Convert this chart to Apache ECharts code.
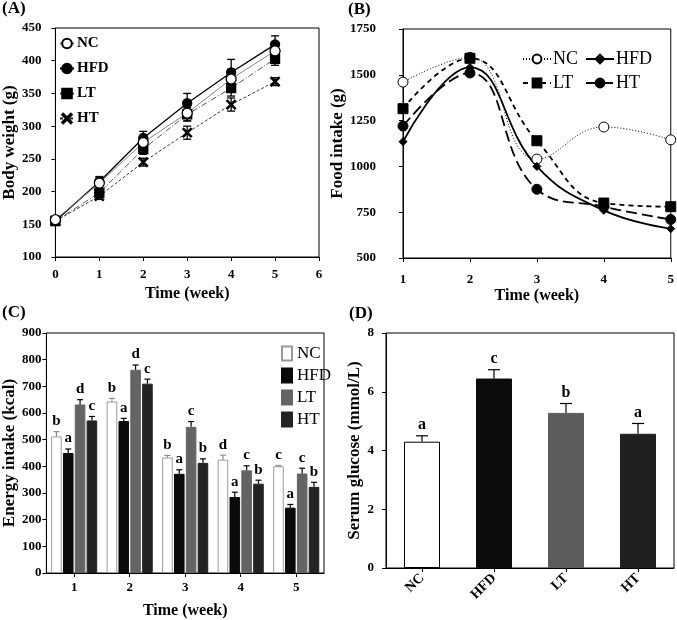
<!DOCTYPE html>
<html>
<head>
<meta charset="utf-8">
<script src="https://cdn.jsdelivr.net/npm/echarts@6/dist/echarts.min.js"></script>
<style>
html, body { margin: 0; padding: 0; background: #fff; }
#chart { width: 677px; height: 620px; }
</style>
</head>
<body>
<div id="chart"></div>
<script>
// ---- data ----
const groups = ['NC', 'HFD', 'LT', 'HT']

// (A) body weight, g
const weeksA = [0, 1, 2, 3, 4, 5]
const bwNC = [157, 213, 275, 320, 372, 415]
const bwHFD = [155, 215, 282, 335, 382, 425]
const bwLT = [155, 198, 265, 318, 358, 403]
const bwHT = [155, 193, 245, 290, 333, 368]
const bwErrNC = [4, 8, 10, 12, 15, 12]
const bwErrHFD = [4, 8, 10, 15, 20, 13]
const bwErrLT = [4, 6, 8, 10, 12, 10]
const bwErrHT = [4, 5, 6, 10, 10, 6]

// (B) food intake, g
const weeksB = [1, 2, 3, 4, 5]
const fiNC = [1460, 1595, 1040, 1215, 1145]
const fiHFD = [1135, 1540, 1000, 760, 660]
const fiLT = [1315, 1590, 1140, 800, 780]
const fiHT = [1220, 1510, 875, 780, 710]

// (C) energy intake, kcal
const weeksC = ['1', '2', '3', '4', '5']
const eiNC = [512, 643, 433, 425, 400]
const eiHFD = [450, 570, 372, 285, 245]
const eiLT = [632, 762, 548, 385, 373]
const eiHT = [572, 710, 413, 335, 323]
const eiErrNC = [18, 12, 8, 17, 3]
const eiErrHFD = [15, 10, 15, 18, 12]
const eiErrLT = [18, 18, 20, 17, 20]
const eiErrHT = [15, 17, 15, 13, 17]
const eiLetNC = ['b', 'b', 'b', 'd', 'c']
const eiLetHFD = ['a', 'a', 'a', 'a', 'a']
const eiLetLT = ['d', 'd', 'c', 'c', 'c']
const eiLetHT = ['c', 'c', 'b', 'b', 'b']

// (D) serum glucose, mmol/L
const sgValues = [4.3, 6.45, 5.28, 4.57]
const sgErr = [0.2, 0.3, 0.32, 0.35]
const sgLetters = ['a', 'c', 'b', 'a']

// ---- styles ----
const serif = '"Liberation Serif", "Times New Roman", serif'
const tickFont = { fontFamily: serif, fontWeight: 'bold', fontSize: 13, color: '#000', formatter: v => String(v) }
const nameFont = { fontFamily: serif, fontWeight: 'bold', fontSize: 17, color: '#000' }
const barColorsC = ['#ffffff', '#0a0a0a', '#646464', '#232323']
const barBordersC = ['#9a9a9a', '#0a0a0a', '#646464', '#232323']
const barColorsD = ['#ffffff', '#0b0b0b', '#5c5c5c', '#1f1f1f']
const xMark = 'path://M0,1L1,0L5,4L9,0L10,1L6,5L10,9L9,10L5,6L1,10L0,9L4,5Z'

const strip = name => name.split(':')[1]

function axisX (grid, extra) {
  return Object.assign({
    gridIndex: grid,
    axisLine: { lineStyle: { color: '#000', width: 1 } },
    axisTick: { show: true, length: 4, lineStyle: { color: '#000' } },
    axisLabel: Object.assign({}, tickFont),
    splitLine: { show: false },
    nameLocation: 'middle',
    nameTextStyle: Object.assign({}, nameFont, { fontSize: 16 })
  }, extra)
}

function axisY (grid, extra) {
  return Object.assign({
    gridIndex: grid,
    type: 'value',
    axisLine: { show: true, lineStyle: { color: '#000', width: 1 } },
    axisTick: { show: true, length: 4, lineStyle: { color: '#000' } },
    axisLabel: Object.assign({}, tickFont),
    splitLine: { show: false },
    nameLocation: 'middle',
    nameRotate: 90,
    nameTextStyle: Object.assign({}, nameFont)
  }, extra)
}

/**
 * error bars for the line chart: both directions, capped
 */
function errBoth (axis, xs, ys, errs) {
  return {
    type: 'custom',
    xAxisIndex: axis,
    yAxisIndex: axis,
    z: 1,
    silent: true,
    data: xs.map((x, i) => [x, ys[i], errs[i]]),
    renderItem: (params, api) => {
      const x = api.value(0)
      const y = api.value(1)
      const e = api.value(2)
      const top = api.coord([x, y + e])
      const bot = api.coord([x, y - e])
      const s = { stroke: '#000', lineWidth: 1.3 }
      const cap = 4
      return {
        type: 'group',
        children: [
          { type: 'line', shape: { x1: top[0], y1: top[1], x2: bot[0], y2: bot[1] }, style: s },
          { type: 'line', shape: { x1: top[0] - cap, y1: top[1], x2: top[0] + cap, y2: top[1] }, style: s },
          { type: 'line', shape: { x1: bot[0] - cap, y1: bot[1], x2: bot[0] + cap, y2: bot[1] }, style: s }
        ]
      }
    }
  }
}

/**
 * upward error bar + letter above a bar
 * slot/count/catGap/barGap follow the bar layout of the panel
 */
function errUp (axis, vals, errs, letters, opt) {
  return {
    type: 'custom',
    xAxisIndex: axis,
    yAxisIndex: axis,
    z: 5,
    silent: true,
    data: vals.map((v, i) => [i, v, errs[i]]),
    renderItem: (params, api) => {
      const idx = api.value(0)
      const v = api.value(1)
      const e = api.value(2)
      const band = api.size([1, 0])[0]
      const w = band * (1 - opt.catGap) / (opt.count + (opt.count - 1) * opt.barGap)
      const total = w * opt.count + w * opt.barGap * (opt.count - 1)
      const dx = -total / 2 + w / 2 + opt.slot * w * (1 + opt.barGap)
      const base = api.coord([idx, v])
      const top = api.coord([idx, v + e])
      const cx = base[0] + dx
      const s = { stroke: opt.color, lineWidth: 1.2 }
      return {
        type: 'group',
        children: [
          { type: 'line', shape: { x1: cx, y1: base[1], x2: cx, y2: top[1] }, style: s },
          { type: 'line', shape: { x1: cx - opt.cap, y1: top[1], x2: cx + opt.cap, y2: top[1] }, style: s },
          {
            type: 'text',
            style: {
              text: letters[params.dataIndex],
              x: cx,
              y: top[1] - 3,
              align: 'center',
              verticalAlign: 'bottom',
              font: 'bold ' + opt.fontSize + 'px ' + serif,
              fill: '#000'
            }
          }
        ]
      }
    }
  }
}

function lineA (name, vals, symbol, size, line) {
  return {
    name: 'A:' + name,
    type: 'line',
    xAxisIndex: 0,
    yAxisIndex: 0,
    z: 3,
    data: weeksA.map((w, i) => [w, vals[i]]),
    symbol: symbol,
    symbolSize: size,
    lineStyle: line,
    itemStyle: { color: name === 'NC' ? '#fff' : '#000', borderColor: '#000', borderWidth: 1.3 },
    emphasis: { disabled: true }
  }
}

function lineB (name, vals, symbol, size, line) {
  return {
    name: 'B:' + name,
    type: 'line',
    xAxisIndex: 1,
    yAxisIndex: 1,
    smooth: 0.45,
    data: weeksB.map((w, i) => [w, vals[i]]),
    symbol: symbol,
    symbolSize: size,
    lineStyle: line,
    itemStyle: { color: name === 'NC' ? '#fff' : '#000', borderColor: '#000', borderWidth: 1 },
    emphasis: { disabled: true }
  }
}

const catGapC = 0.17
const barGapC = 0.12

function barC (slot, vals) {
  return {
    name: 'C:' + groups[slot],
    type: 'bar',
    xAxisIndex: 2,
    yAxisIndex: 2,
    barCategoryGap: (catGapC * 100) + '%',
    barGap: (barGapC * 100) + '%',
    data: vals,
    itemStyle: { color: barColorsC[slot], borderColor: barBordersC[slot], borderWidth: 1 },
    emphasis: { disabled: true }
  }
}

function errC (slot, vals, errs, letters) {
  return errUp(2, vals, errs, letters, {
    slot: slot, count: 4, catGap: catGapC, barGap: barGapC, cap: 3, fontSize: 15,
    color: slot === 0 ? '#8a8a8a' : '#000'
  })
}

function legendB (name, left, top) {
  return {
    data: ['B:' + name],
    left: left,
    top: top,
    itemWidth: 28,
    itemHeight: 11,
    selectedMode: false,
    formatter: strip,
    textStyle: { fontFamily: serif, fontSize: 18, color: '#000', padding: [0, 0, 0, -3] }
  }
}

const chart = echarts.init(document.getElementById('chart'))

chart.setOption({
  animation: false,
  backgroundColor: '#fff',
  grid: [
    { left: 49, top: 28, width: 270, height: 229, show: true, borderColor: '#000', borderWidth: 1 },
    { left: 403, top: 29, width: 268, height: 229, show: true, borderColor: '#000', borderWidth: 1 },
    { left: 41, top: 333, width: 283, height: 240, show: true, borderColor: '#000', borderWidth: 1 },
    { left: 386, top: 333, width: 288, height: 235, show: true, borderColor: '#000', borderWidth: 1 }
  ],
  xAxis: [
    axisX(0, { type: 'value', min: 0, max: 6, interval: 1, name: 'Time (week)', nameGap: 29,
      axisLabel: Object.assign({}, tickFont, { margin: 11 }) }),
    axisX(1, { type: 'value', min: 1, max: 5, interval: 1, name: 'Time (week)', nameGap: 30,
      axisLabel: Object.assign({}, tickFont, { margin: 15 }) }),
    axisX(2, { type: 'category', data: weeksC, name: 'Time (week)', nameGap: 30,
      axisTick: { show: true, length: 4, alignWithLabel: true, lineStyle: { color: '#000' } },
      axisLabel: Object.assign({}, tickFont, { margin: 8 }) }),
    axisX(3, { type: 'category', data: groups,
      axisTick: { show: true, length: 4, alignWithLabel: true, lineStyle: { color: '#000' } },
      axisLabel: Object.assign({}, tickFont, { rotate: 45, margin: 8, fontSize: 14 }) })
  ],
  yAxis: [
    axisY(0, { min: 100, max: 450, interval: 50, name: 'Body weight (g)', nameGap: 33,
      axisLabel: Object.assign({}, tickFont, { margin: 14 }) }),
    axisY(1, { min: 500, max: 1750, interval: 250, name: 'Food intake (g)', nameGap: 38,
      axisLabel: Object.assign({}, tickFont, { margin: 27 }) }),
    axisY(2, { min: 0, max: 900, interval: 100, name: 'Energy intake (kcal)', nameGap: 25,
      axisLabel: Object.assign({}, tickFont, { margin: 5 }) }),
    axisY(3, { min: 0, max: 8, interval: 2, name: 'Serum glucose (mmol/L)', nameGap: 18,
      axisLabel: Object.assign({}, tickFont, { margin: 12 }) })
  ],
  legend: [
    {
      data: ['A:NC', 'A:HFD', 'A:LT', 'A:HT'],
      orient: 'vertical',
      left: 54,
      top: 31,
      itemWidth: 14,
      itemHeight: 12,
      itemGap: 10,
      selectedMode: false,
      formatter: strip,
      textStyle: { fontFamily: serif, fontWeight: 'bold', fontSize: 15, color: '#000', padding: [0, 0, 0, -2] }
    },
    legendB('NC', 517, 45),
    legendB('HFD', 580, 45),
    legendB('LT', 517, 69),
    legendB('HT', 580, 69),
    {
      data: ['C:NC', 'C:HFD', 'C:LT', 'C:HT'],
      orient: 'vertical',
      left: 276,
      top: 340,
      itemWidth: 10,
      itemHeight: 14,
      itemGap: 5,
      icon: 'rect',
      selectedMode: false,
      formatter: strip,
      textStyle: { fontFamily: serif, fontSize: 17, color: '#000', padding: [0, 0, 0, 0] }
    }
  ],
  graphic: [
    { type: 'text', left: 2, top: 0, style: { text: '(A)', font: 'bold 17px ' + serif, fill: '#000' } },
    { type: 'text', left: 348, top: 1, style: { text: '(B)', font: 'bold 17px ' + serif, fill: '#000' } },
    { type: 'text', left: 2, top: 304, style: { text: '(C)', font: 'bold 17px ' + serif, fill: '#000' } },
    { type: 'text', left: 349, top: 305, style: { text: '(D)', font: 'bold 17px ' + serif, fill: '#000' } }
  ],
  series: [
    // (A)
    errBoth(0, weeksA, bwNC, bwErrNC),
    errBoth(0, weeksA, bwHFD, bwErrHFD),
    errBoth(0, weeksA, bwLT, bwErrLT),
    errBoth(0, weeksA, bwHT, bwErrHT),
    lineA('HFD', bwHFD, 'circle', 9, { color: '#000', width: 1.3 }),
    lineA('LT', bwLT, 'rect', 9, { color: '#444', width: 0.9, type: [6, 2, 1, 2] }),
    lineA('HT', bwHT, xMark, 9, { color: '#222', width: 0.9, type: [3, 2] }),
    lineA('NC', bwNC, 'circle', 10, { color: '#777', width: 0.9 }),
    // (B)
    lineB('NC', fiNC, 'circle', 10, { color: '#000', width: 1, type: [1, 2] }),
    lineB('HFD', fiHFD, 'diamond', 8, { color: '#000', width: 1.8 }),
    lineB('LT', fiLT, 'rect', 10, { color: '#000', width: 1.8, type: [5, 4] }),
    lineB('HT', fiHT, 'circle', 10, { color: '#000', width: 1.8, type: [11, 5] }),
    // (C)
    barC(0, eiNC),
    barC(1, eiHFD),
    barC(2, eiLT),
    barC(3, eiHT),
    errC(0, eiNC, eiErrNC, eiLetNC),
    errC(1, eiHFD, eiErrHFD, eiLetHFD),
    errC(2, eiLT, eiErrLT, eiLetLT),
    errC(3, eiHT, eiErrHT, eiLetHT),
    // (D)
    {
      name: 'D:glucose',
      type: 'bar',
      xAxisIndex: 3,
      yAxisIndex: 3,
      barWidth: '50%',
      data: sgValues.map((v, i) => ({
        value: v,
        itemStyle: { color: barColorsD[i], borderColor: i === 0 ? '#000' : barColorsD[i], borderWidth: 1 }
      })),
      emphasis: { disabled: true }
    },
    errUp(3, sgValues, sgErr, sgLetters, {
      slot: 0, count: 1, catGap: 0.5, barGap: 0, cap: 6, fontSize: 16, color: '#000'
    })
  ]
})
</script>
</body>
</html>
